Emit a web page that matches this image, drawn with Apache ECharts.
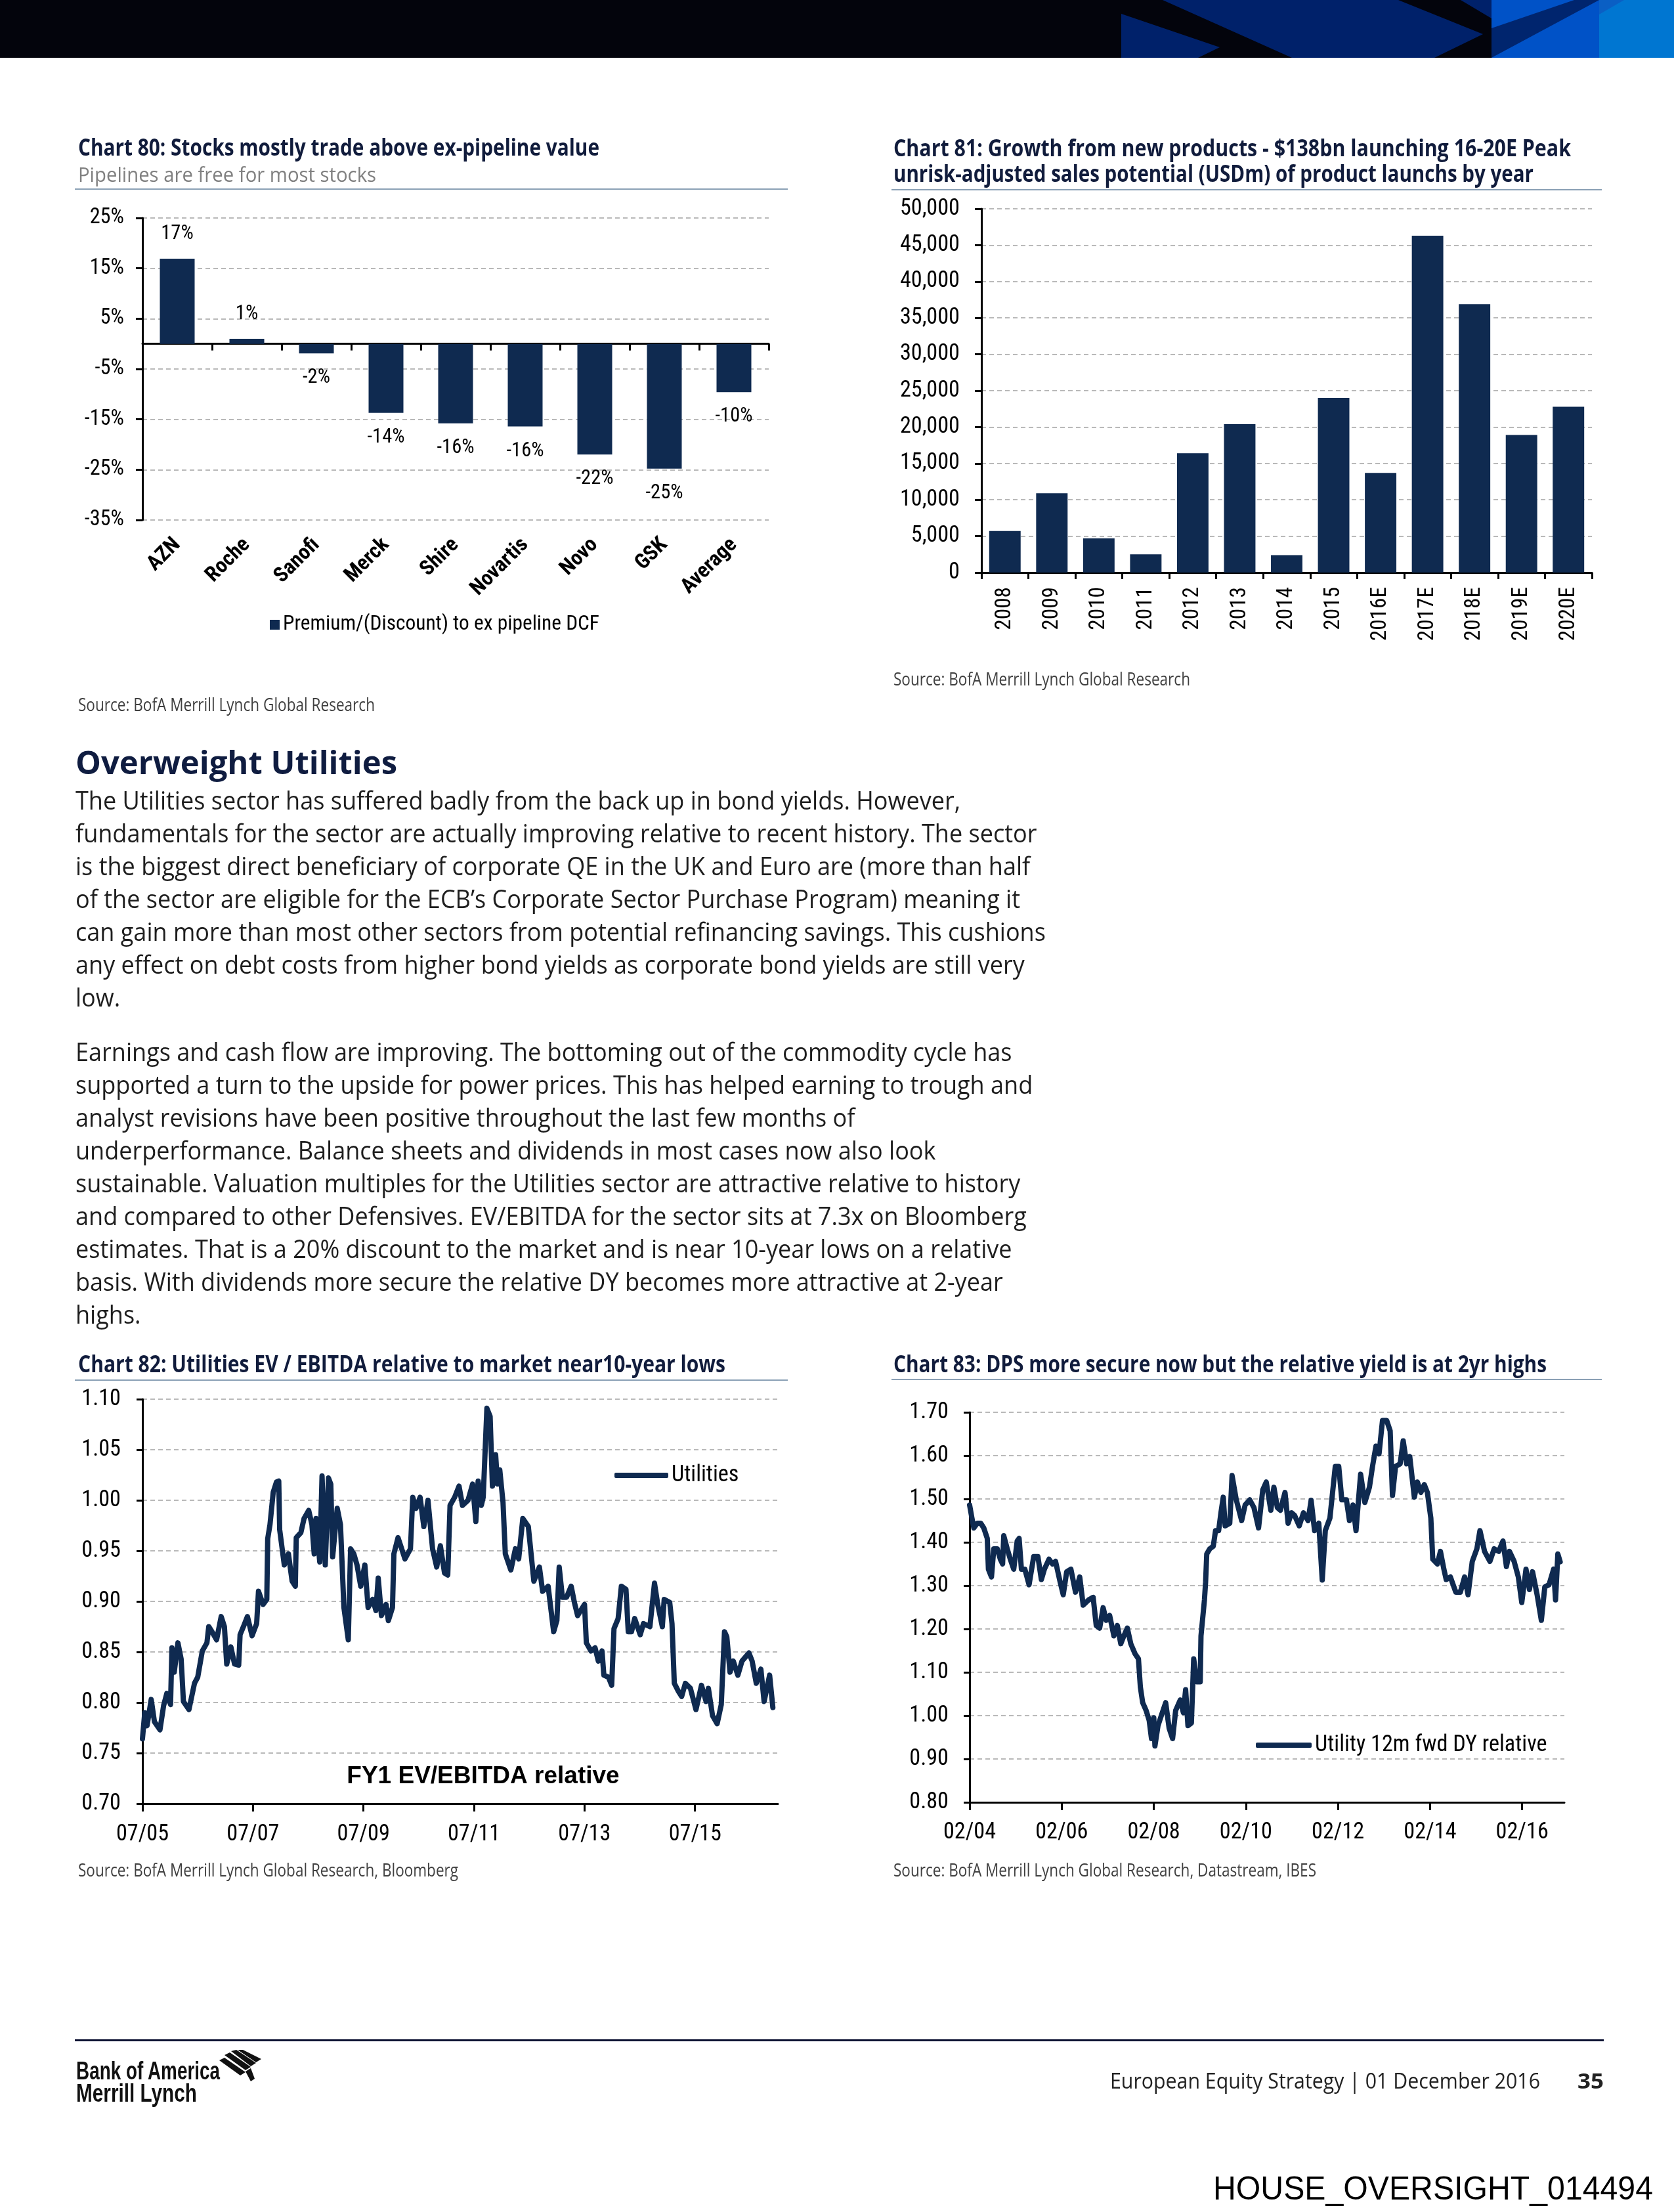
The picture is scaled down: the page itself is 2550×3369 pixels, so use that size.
<!DOCTYPE html>
<html><head><meta charset="utf-8">
<script src="https://cdn.jsdelivr.net/npm/echarts@6.0.0/dist/echarts.min.js"></script>
<style>
html,body{margin:0;padding:0;background:#fff}
#page{position:relative;width:2550px;height:3369px;overflow:hidden;background:#fff}
#chart{position:absolute;left:0;top:0;width:2550px;height:3369px}
.t{position:absolute;white-space:pre;line-height:1;transform-origin:0 0}
.r{position:absolute}
</style></head><body>
<div id="page">
<div id="chart"></div>
<svg class="r" style="left:0;top:0" width="2550" height="90">
<rect x="0" y="0" width="2550" height="88" fill="#03040c"/>
<rect x="1708" y="0" width="564" height="88" fill="#00216a"/>
<polygon points="1700,0 1771,0 1968,88 1825,88 1858,72 1708,21 1700,21" fill="#03040c"/>
<polygon points="2130,0 2225,0 2272,28 2272,88 2185,88 2259,52" fill="#03040c"/>
<rect x="2272" y="0" width="164" height="88" fill="#0052c7"/>
<rect x="2436" y="0" width="114" height="88" fill="#0076d1"/>
<polygon points="2272,43 2398,0 2436,0 2272,88" fill="#00256e"/>
<polygon points="2436,0 2474,0 2436,22" fill="#0a5fc4"/>
</svg>
<svg class="r" style="left:330px;top:3122px" width="90" height="56">
<g fill="#111">
<polygon points="12,8 20,4 52,26 44,31"/>
<polygon points="22,2 30,0 60,20 52,25"/>
<polygon points="4,16 12,12 44,34 36,39"/>
<polygon points="32,0 40,0 68,14 60,19"/>
<polygon points="44,33 52,28 58,44 52,48"/>
</g>
</svg>
<div class="r" style="left:114px;top:287px;width:1086px;height:2px;background:#8aa0b5"></div>
<div class="r" style="left:1358px;top:288px;width:1082px;height:2px;background:#8aa0b5"></div>
<div class="r" style="left:114px;top:2101px;width:1086px;height:2px;background:#8aa0b5"></div>
<div class="r" style="left:1358px;top:2100px;width:1082px;height:2px;background:#8aa0b5"></div>
<div class="r" style="left:114px;top:3106px;width:2329px;height:3px;background:#0c1232"></div>
</div>
<script>
// ---------- data ----------
const c80Cats = ['AZN','Roche','Sanofi','Merck','Shire','Novartis','Novo','GSK','Average'];
const c80Vals = [16.9, 1.0, -1.9, -13.7, -15.8, -16.4, -22.0, -24.8, -9.6];
const c80Name = 'Premium/(Discount) to ex pipeline DCF';

const c81Years = ['2008','2009','2010','2011','2012','2013','2014','2015','2016E','2017E','2018E','2019E','2020E'];
const c81Vals = [5700, 10900, 4700, 2500, 16400, 20400, 2400, 24000, 13700, 46300, 36900, 18900, 22800];

// Chart 82: months after Jul 2005, FY1 EV/EBITDA relative
const c82Month = [0,0.5,1.0,1.9,2.6,3.8,4.6,5.3,6.1,6.4,
 6.9,7.7,8.4,8.9,10.1,11.3,12.0,13.0,14.0,14.4,
 15.1,16.1,17.1,17.8,18.3,19.2,20.0,20.9,21.2,22.1,
 22.8,23.8,24.8,25.2,26.2,27.0,27.2,27.7,28.4,29.1,
 29.6,29.8,30.8,31.7,32.5,33.2,33.4,34.4,35.1,36.1,
 36.8,37.3,37.7,38.5,39.0,39.7,40.4,40.9,41.3,42.3,
 43.0,43.75,44.7,45.2,45.9,46.6,47.4,48.3,49.0,50.0,
 50.7,51.2,51.9,52.9,53.4,54.3,54.6,55.5,56.3,57.0,
 58.2,58.7,59.4,60.3,61.1,62.0,63.0,63.9,64.7,65.6,
 66.3,66.8,67.8,68.75,69.5,70.7,71.7,72.4,72.9,73.6,
 74.0,74.8,75.5,76.0,76.7,77.1,77.6,78.3,78.8,80.0,
 81.0,81.7,82.6,83.8,85.0,86.2,86.9,88.1,89.3,90.0,
 90.5,91.2,92.1,93.1,93.8,94.5,96.0,96.4,97.4,98.3,
 99.0,99.8,100.2,101.2,101.9,102.4,103.3,104.0,105.0,105.5,
 106.2,106.9,108.1,108.8,110.2,111.2,111.9,112.9,113.3,114.5,
 115.0,115.5,116.4,117.1,117.9,119.0,120.2,121.4,122.4,122.9,
 123.8,124.8,125.7,126.4,126.9,127.6,128.3,129.3,130.2,131.7,
 132.4,133.3,134.3,135.0,136.2,136.9];
const c82Val = [0.764,0.790,0.777,0.803,0.781,0.773,0.797,0.809,0.798,0.854,
 0.830,0.859,0.843,0.801,0.793,0.819,0.825,0.851,0.859,0.875,
 0.870,0.862,0.885,0.875,0.838,0.855,0.838,0.837,0.867,0.877,
 0.885,0.866,0.878,0.910,0.897,0.902,0.962,0.976,1.008,1.018,
 1.019,0.971,0.936,0.947,0.920,0.915,0.963,0.968,0.982,0.990,
 0.976,0.947,0.982,0.939,1.024,0.936,1.022,1.016,0.944,0.992,
 0.976,0.894,0.862,0.952,0.947,0.936,0.915,0.936,0.894,0.902,
 0.891,0.923,0.886,0.897,0.881,0.894,0.947,0.963,0.952,0.942,
 0.952,1.003,0.992,1.003,0.974,1.000,0.952,0.934,0.955,0.928,
 0.926,0.995,1.003,1.014,0.995,1.000,1.016,0.979,1.019,0.995,
 1.003,1.091,1.083,1.014,1.045,1.016,1.030,0.998,0.947,0.931,
 0.952,0.942,0.982,0.974,0.920,0.934,0.910,0.915,0.870,0.881,
 0.934,0.904,0.904,0.915,0.899,0.886,0.897,0.859,0.851,0.854,
 0.841,0.851,0.827,0.825,0.817,0.873,0.883,0.915,0.912,0.870,
 0.870,0.883,0.867,0.878,0.875,0.918,0.897,0.875,0.902,0.899,
 0.878,0.819,0.811,0.806,0.819,0.814,0.793,0.817,0.801,0.814,
 0.787,0.779,0.798,0.870,0.865,0.830,0.841,0.827,0.841,0.849,
 0.841,0.819,0.833,0.801,0.827,0.795];
const c82Ticks = [0,24,48,72,96,120];

// Chart 83: months after Feb 2004, Utility 12m fwd DY relative
const c83Month = [0,0.6,1.1,2.0,2.9,3.7,4.6,4.9,5.7,6.3,
 7.2,8.0,8.6,8.9,9.8,10.6,11.5,12.4,12.9,13.5,
 14.4,15.5,16.7,17.8,18.7,19.5,20.7,21.6,22.4,23.6,
 24.4,25.3,26.4,27.6,28.7,29.6,31.0,32.2,33.0,33.9,
 34.8,35.6,36.5,37.6,38.5,39.4,40.2,41.1,42.0,43.1,
 44.0,44.5,45.1,46.0,46.8,47.4,48.0,48.3,49.1,50.0,
 51.1,52.0,52.9,53.7,54.9,55.7,56.3,56.9,57.8,58.4,
 59.2,60.1,60.3,61.2,61.5,61.8,62.6,63.5,64.1,64.9,
 65.5,66.1,66.6,67.8,68.4,69.5,70.9,71.8,73.0,74.1,
 75.3,76.4,77.3,78.5,79.3,80.2,81.0,82.2,83.0,83.9,
 84.7,85.9,87.0,88.2,89.0,89.9,91.0,91.9,92.7,93.9,
 95.3,96.2,97.0,98.2,99.0,99.9,100.7,101.9,103.0,104.2,
 105.0,105.9,106.7,107.6,108.7,109.6,110.2,111.0,112.2,113.0,
 113.9,114.7,115.9,116.7,117.6,118.5,119.3,120.2,120.7,121.9,
 122.7,123.6,124.2,125.3,126.7,127.9,129.0,129.9,131.0,132.2,
 133.0,134.2,135.6,136.7,137.9,139.0,139.9,140.7,141.9,143.0,
 143.9,145.0,145.9,146.7,147.9,149.0,149.9,151.0,152.2,152.7,
 153.3,153.9];
const c83Val = [1.486,1.456,1.433,1.444,1.444,1.433,1.409,1.338,1.320,1.385,
 1.385,1.361,1.350,1.415,1.385,1.361,1.338,1.403,1.409,1.338,
 1.338,1.302,1.367,1.367,1.314,1.338,1.361,1.350,1.356,1.308,
 1.279,1.332,1.338,1.285,1.320,1.255,1.267,1.273,1.208,1.202,
 1.249,1.220,1.231,1.184,1.208,1.166,1.184,1.202,1.166,1.143,
 1.131,1.066,1.030,1.012,0.989,0.947,0.995,0.930,0.977,1.001,
 1.030,0.971,0.947,1.012,1.036,1.007,1.060,0.977,0.983,1.131,
 1.078,1.078,1.184,1.267,1.308,1.373,1.385,1.391,1.427,1.427,
 1.468,1.504,1.438,1.444,1.554,1.498,1.450,1.486,1.498,1.480,
 1.433,1.521,1.539,1.474,1.527,1.480,1.474,1.515,1.444,1.468,
 1.462,1.438,1.468,1.450,1.497,1.427,1.444,1.313,1.427,1.456,
 1.575,1.575,1.498,1.498,1.450,1.486,1.427,1.557,1.492,1.527,
 1.575,1.622,1.604,1.681,1.681,1.657,1.508,1.575,1.581,1.634,
 1.581,1.598,1.504,1.539,1.515,1.533,1.515,1.456,1.361,1.350,
 1.379,1.338,1.314,1.320,1.285,1.285,1.320,1.279,1.356,1.385,
 1.427,1.379,1.356,1.385,1.379,1.403,1.344,1.379,1.356,1.320,
 1.261,1.338,1.291,1.332,1.279,1.220,1.297,1.302,1.338,1.267,
 1.373,1.355];
const c83Ticks = [0,24,48,72,96,120,144];

// ---------- text ----------
const para1 = [
 'The Utilities sector has suffered badly from the back up in bond yields. However,',
 'fundamentals for the sector are actually improving relative to recent history. The sector',
 'is the biggest direct beneficiary of corporate QE in the UK and Euro are (more than half',
 'of the sector are eligible for the ECB\u2019s Corporate Sector Purchase Program) meaning it',
 'can gain more than most other sectors from potential refinancing savings. This cushions',
 'any effect on debt costs from higher bond yields as corporate bond yields are still very',
 'low.'];
const para2 = [
 'Earnings and cash flow are improving. The bottoming out of the commodity cycle has',
 'supported a turn to the upside for power prices. This has helped earning to trough and',
 'analyst revisions have been positive throughout the last few months of',
 'underperformance. Balance sheets and dividends in most cases now also look',
 'sustainable. Valuation multiples for the Utilities sector are attractive relative to history',
 'and compared to other Defensives. EV/EBITDA for the sector sits at 7.3x on Bloomberg',
 'estimates. That is a 20% discount to the market and is near 10-year lows on a relative',
 'basis. With dividends more secure the relative DY becomes more attractive at 2-year',
 'highs.'];

// ---------- fonts: pick the narrowest available and size it to Arial Narrow widths ----------
const mctx = document.createElement('canvas').getContext('2d');
function avail(name) {
  const s = 'abcdefghijklmnopqrstuvwxyz0123456789ABCDEF';
  mctx.font = '40px monospace'; const w0 = mctx.measureText(s).width;
  mctx.font = "40px '" + name + "', monospace"; const w1 = mctx.measureText(s).width;
  return Math.abs(w1 - w0) > 0.5;
}
const cands = ['Liberation Sans Narrow','Arial Narrow','Nimbus Sans Narrow','Roboto Condensed','Noto Sans Condensed','Open Sans Condensed','DejaVu Sans Condensed','Liberation Sans'];
let CF = 'Liberation Sans';
for (const c of cands) { if (avail(c)) { CF = c; break; } }
const NAR = "'" + CF + "', sans-serif";
mctx.font = "100px " + NAR;
const FK = Math.min(1, 456 / mctx.measureText('0123456789').width);
const fs = n => Math.round(n * FK * 10) / 10;

const OS = "'Open Sans', 'DejaVu Sans', sans-serif";
const LIB = "'Liberation Sans', Arial, sans-serif";
const page = document.getElementById('page');

function baseOff(fam, size, weight) {
  const d = document.createElement('div');
  d.className = 't';
  d.style.cssText += `left:0;top:0;font-family:${fam};font-size:${size}px;font-weight:${weight};`;
  d.innerHTML = 'Hg<span style="display:inline-block;width:1px;height:0;vertical-align:baseline"></span>';
  page.appendChild(d);
  const off = d.lastChild.getBoundingClientRect().top - d.getBoundingClientRect().top;
  d.remove();
  return off;
}
function txt(o) {
  const el = document.createElement('div');
  el.className = 't';
  el.textContent = o.text;
  el.style.fontFamily = o.fam;
  el.style.fontSize = o.size + 'px';
  el.style.fontWeight = o.weight || 400;
  el.style.color = o.color || '#000';
  el.style.left = o.left + 'px';
  el.style.top = '0px';
  page.appendChild(el);
  const off = baseOff(o.fam, o.size, o.weight || 400);
  el.style.top = (o.base - off) + 'px';
  let sx = o.sx || 1;
  if (o.width) sx = o.width / el.getBoundingClientRect().width;
  el.style.transform = 'scaleX(' + sx + ')';
  return sx;
}
const TC = '#111c3c';
txt({text:'Chart 80: Stocks mostly trade above ex-pipeline value', fam:OS, size:35, weight:700, color:TC, left:119, base:237, width:794});
txt({text:'Pipelines are free for most stocks', fam:OS, size:31, color:'#808080', left:119, base:277, width:454});
txt({text:'Chart 81: Growth from new products - $138bn launching 16-20E Peak', fam:OS, size:35, weight:700, color:TC, left:1361, base:238, width:1032});
txt({text:'unrisk-adjusted sales potential (USDm) of product launchs by year', fam:OS, size:35, weight:700, color:TC, left:1361, base:277, width:975});
txt({text:'Chart 82: Utilities EV / EBITDA relative to market near10-year lows', fam:OS, size:35, weight:700, color:TC, left:119, base:2090, width:986});
txt({text:'Chart 83: DPS more secure now but the relative yield is at 2yr highs', fam:OS, size:35, weight:700, color:TC, left:1361, base:2090, width:995});
const SC = '#404040';
txt({text:'Source: BofA Merrill Lynch Global Research', fam:OS, size:27, color:SC, left:119, base:1083, width:452});
txt({text:'Source: BofA Merrill Lynch Global Research', fam:OS, size:27, color:SC, left:1361, base:1044, width:452});
txt({text:'Source: BofA Merrill Lynch Global Research, Bloomberg', fam:OS, size:27, color:SC, left:119, base:2858, width:579});
txt({text:'Source: BofA Merrill Lynch Global Research, Datastream, IBES', fam:OS, size:27, color:SC, left:1361, base:2858, width:644});
txt({text:'Overweight Utilities', fam:OS, size:48, weight:700, color:'#0f1c40', left:115, base:1179, width:490});
let psx = null;
para1.forEach((s, i) => {
  const r = txt({text:s, fam:OS, size:39, color:'#1e1e1e', left:115, base:1233 + 50 * i, width: i === 0 ? 1348 : null, sx: psx});
  if (i === 0) psx = r;
});
para2.forEach((s, i) => {
  txt({text:s, fam:OS, size:39, color:'#1e1e1e', left:115, base:1616 + 50 * i, sx: psx});
});
txt({text:'Bank of America', fam:LIB, size:38, weight:700, color:'#111', left:116, base:3167, width:219});
txt({text:'Merrill Lynch', fam:LIB, size:38, weight:700, color:'#111', left:116, base:3201, width:184});
txt({text:'European Equity Strategy | 01 December 2016', fam:OS, size:33, color:'#222', left:1691, base:3181, width:655});
txt({text:'35', fam:OS, size:33, weight:700, color:'#222', left:2403, base:3181, width:40});
txt({text:'HOUSE_OVERSIGHT_014494', fam:LIB, size:50, color:'#000', left:1848, base:3350, width:670});

// ---------- chart ----------
const NAVY = '#0f2a50';
const gridLine = {show:true, lineStyle:{color:'#a3a3a3', width:1.5, type:[7,5]}};
const axLine = {show:true, onZero:false, lineStyle:{color:'#000', width:3}};
function tick(len) { return {show:true, length:len, inside:false, lineStyle:{color:'#000', width:3}}; }
const pad = n => (n < 10 ? '0' : '') + n;
function monthLabel(baseYear, baseMonth) {
  return v => { const t = baseMonth + Math.round(v); return pad(t % 12 + 1) + '/' + pad((baseYear + Math.floor(t / 12)) % 100); };
}

const chart = echarts.init(document.getElementById('chart'), null, {renderer:'canvas', width:2550, height:3369});
chart.setOption({
  animation:false,
  textStyle:{fontFamily:NAR},
  grid:[
    {left:217, top:332, width:954, height:460, containLabel:false},
    {left:1495, top:318, width:930, height:554, containLabel:false},
    {left:217, top:2131, width:968, height:616, containLabel:false},
    {left:1477, top:2151, width:906, height:594, containLabel:false}
  ],
  xAxis:[
    {gridIndex:0, type:'category', position:'bottom', data:c80Cats,
     axisLine:{show:true, onZero:true, lineStyle:{color:'#000', width:3}}, axisTick:tick(10),
     axisLabel:{show:false}, splitLine:{show:false}},
    {gridIndex:0, type:'category', position:'bottom', data:c80Cats,
     axisLine:{show:false, onZero:false}, axisTick:{show:false},
     axisLabel:{rotate:45, interval:0, margin:33, fontSize:fs(35), fontWeight:'bold', color:'#000', fontFamily:NAR},
     splitLine:{show:false}},
    {gridIndex:1, type:'category', position:'bottom', data:c81Years, axisLine:axLine, axisTick:tick(10),
     axisLabel:{rotate:90, interval:0, margin:22, fontSize:fs(36), color:'#000', fontFamily:NAR}, splitLine:{show:false}},
    {gridIndex:2, type:'value', position:'bottom', min:0, max:138, axisLine:axLine,
     axisTick:Object.assign(tick(12), {customValues:c82Ticks}),
     axisLabel:{customValues:c82Ticks, formatter:monthLabel(2005, 6), margin:30, fontSize:fs(37), color:'#000', fontFamily:NAR},
     splitLine:{show:false}},
    {gridIndex:3, type:'value', position:'bottom', min:0, max:155, axisLine:axLine,
     axisTick:Object.assign(tick(12), {customValues:c83Ticks}),
     axisLabel:{customValues:c83Ticks, formatter:monthLabel(2004, 1), margin:29, fontSize:fs(37), color:'#000', fontFamily:NAR},
     splitLine:{show:false}}
  ],
  yAxis:[
    {gridIndex:0, type:'value', position:'left', min:-35, max:25, interval:10, axisLine:axLine, axisTick:tick(10),
     axisLabel:{formatter:'{value}%', margin:28, fontSize:fs(35), color:'#000', fontFamily:NAR}, splitLine:gridLine},
    {gridIndex:1, type:'value', position:'left', min:0, max:50000, interval:5000, axisLine:axLine, axisTick:tick(10),
     axisLabel:{formatter:v => v.toLocaleString('en-US'), margin:33, fontSize:fs(37), color:'#000', fontFamily:NAR}, splitLine:gridLine},
    {gridIndex:2, type:'value', position:'left', min:0.70, max:1.10, interval:0.05, axisLine:axLine, axisTick:tick(9),
     axisLabel:{formatter:v => v.toFixed(2), margin:33, fontSize:fs(37), color:'#000', fontFamily:NAR}, splitLine:gridLine},
    {gridIndex:3, type:'value', position:'left', min:0.80, max:1.70, interval:0.10, axisLine:axLine, axisTick:tick(9),
     axisLabel:{formatter:v => v.toFixed(2), margin:32, fontSize:fs(37), color:'#000', fontFamily:NAR}, splitLine:gridLine}
  ],
  legend:[
    {data:[c80Name], left:411, top:936, padding:0, icon:'rect', itemWidth:15, itemHeight:15, selectedMode:false,
     textStyle:{fontSize:fs(34), color:'#000', fontFamily:NAR}},
    {data:['Utilities'], left:936, top:2230, padding:0, icon:'roundRect', itemWidth:82, itemHeight:8, selectedMode:false,
     textStyle:{fontSize:fs(37), color:'#000', fontFamily:NAR}},
    {data:['Utility 12m fwd DY relative'], left:1913, top:2641, padding:0, icon:'roundRect', itemWidth:85, itemHeight:8, selectedMode:false,
     textStyle:{fontSize:fs(37), color:'#000', fontFamily:NAR}}
  ],
  graphic:[
    {type:'text', x:736, y:2706, silent:true,
     style:{text:'FY1 EV/EBITDA relative', font:"bold 37px 'Liberation Sans', Arial, sans-serif", fill:'#000', align:'center', verticalAlign:'middle'}}
  ],
  series:[
    {name:c80Name, type:'bar', xAxisIndex:0, yAxisIndex:0, barWidth:'50%', itemStyle:{color:NAVY}, silent:true,
     data:c80Vals.map(v => ({value:v, label:{position: v >= 0 ? 'top' : 'bottom'}})),
     label:{show:true, distance:22, formatter:p => Math.round(p.value) + '%', fontSize:fs(33), color:'#000', fontFamily:NAR}},
    {name:'Peak sales', type:'bar', xAxisIndex:2, yAxisIndex:1, barWidth:'67%', itemStyle:{color:NAVY}, silent:true, data:c81Vals},
    {name:'Utilities', type:'line', xAxisIndex:3, yAxisIndex:2, symbol:'none', silent:true,
     lineStyle:{color:NAVY, width:8, cap:'round', join:'round'}, itemStyle:{color:NAVY},
     data:c82Month.map((m, i) => [m, c82Val[i]])},
    {name:'Utility 12m fwd DY relative', type:'line', xAxisIndex:4, yAxisIndex:3, symbol:'none', silent:true,
     lineStyle:{color:NAVY, width:8, cap:'round', join:'round'}, itemStyle:{color:NAVY},
     data:c83Month.map((m, i) => [m, c83Val[i]])}
  ]
});
</script>
</body></html>
